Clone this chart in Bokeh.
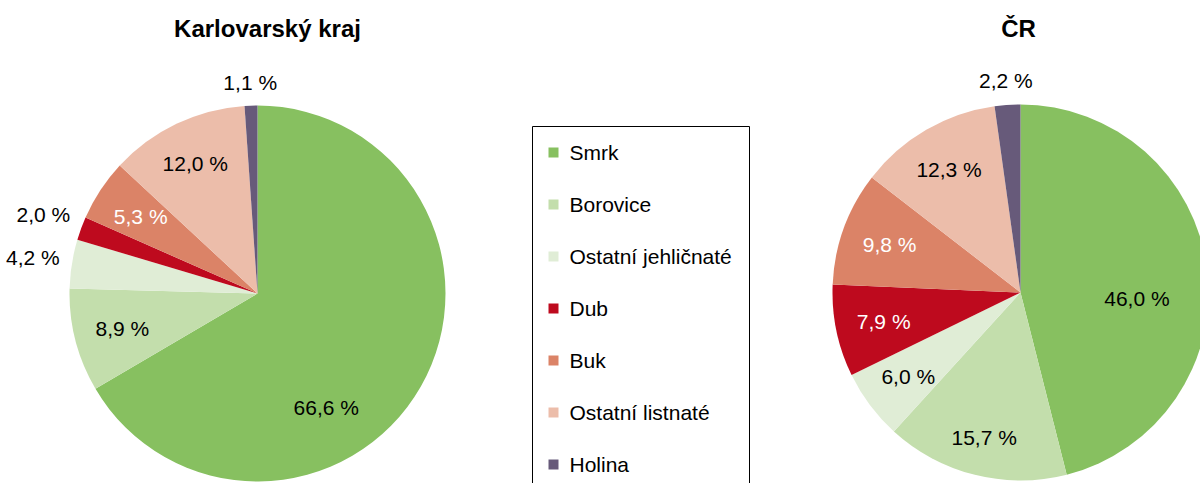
import math
from bokeh.plotting import figure
from bokeh.models import Range1d, ColumnDataSource
from bokeh.embed import file_html
from bokeh.resources import INLINE
from bokeh.core.properties import value

# ---- data ----
categories = ["Smrk", "Borovice", "Ostatní jehličnaté", "Dub", "Buk", "Ostatní listnaté", "Holina"]
karlovarsky = [66.6, 8.9, 4.2, 2.0, 5.3, 12.0, 1.1]
cr = [46.0, 15.7, 6.0, 7.9, 9.8, 12.3, 2.2]
titles = ["Karlovarský kraj", "ČR"]
colors = ["#87C060", "#C3DEAC", "#E0EDD6", "#BE0A1E", "#DB8367", "#ECBDAA", "#675A7A"]
dark_slices = {"Dub", "Buk"}

# ---- layout (pixel-like data space, y up) ----
W, H = 1200, 483
FS = 21
FONT = value("Liberation Sans")
p = figure(width=W, height=H, x_range=Range1d(0, W), y_range=Range1d(0, H),
           output_backend="svg", toolbar_location=None, min_border=0)
p.axis.visible = False
p.grid.visible = False
p.outline_line_color = None
p.background_fill_color = "white"
p.border_fill_color = "white"

def Y(screen_y):
    return H - screen_y

ADV = {",": 0.278, " ": 0.278, "%": 0.889}
def text_half_extent(s, dx, dy):
    hw = sum(ADV.get(c, 0.556) for c in s) * FS / 2
    hh = FS * 0.52
    return hw * abs(dx) + hh * abs(dy)

R = 188
pies = [(257, Y(293), karlovarsky, titles[0], 267), (1020, Y(292), cr, titles[1], 1018)]
# manual placement tweaks for the big slice labels (angle deg clockwise from top, radius fraction)
label_override = {(0, "Smrk"): (149, 0.71), (1, "Smrk"): (93, 0.62)}

for pi_, (cx, cy, vals, title, tx) in enumerate(pies):
    total = sum(vals)
    cum = 0.0
    starts, ends = [], []
    lx, ly, lt, lc = [], [], [], []
    for cat, v, col in zip(categories, vals, colors):
        f0 = cum / total
        cum += v
        f1 = cum / total
        starts.append(math.pi / 2 - 2 * math.pi * f0)
        ends.append(math.pi / 2 - 2 * math.pi * f1)
        mid = 2 * math.pi * (f0 + f1) / 2
        label = f"{v:.1f}".replace(".", ",") + " %"
        sx, sy = math.sin(mid), math.cos(mid)
        ext = text_half_extent(label, sx, sy)
        if v < 5:
            dist = 1.06 * R + ext
            color = "#000000"
        else:
            dist = 0.895 * R - ext
            color = "#FFFFFF" if cat in dark_slices else "#000000"
        if (pi_, cat) in label_override:
            a, frac = label_override[(pi_, cat)]
            sx, sy = math.sin(math.radians(a)), math.cos(math.radians(a))
            dist = frac * R
        lx.append(cx + dist * sx)
        ly.append(cy + dist * sy)
        lt.append(label)
        lc.append(color)
    src = ColumnDataSource(dict(start=starts, end=ends, color=colors))
    p.wedge(x=cx, y=cy, radius=R, start_angle="start", end_angle="end",
            direction="clock", fill_color="color", line_color=None, source=src)
    p.text(x=lx, y=ly, text=lt, text_color=lc, text_align="center",
           text_baseline="middle", text_font=FONT, text_font_size=f"{FS}px")
    p.text(x=[tx], y=[Y(28)], text=[title], text_align="center", text_baseline="middle",
           text_font=FONT, text_font_size="24px", text_font_style="bold", text_color="#000000")

# ---- legend ----
box_l, box_r, box_t = 532, 749, 126
p.quad(left=box_l, right=box_r, top=Y(box_t), bottom=Y(520), fill_color=None,
       line_color="#000000", line_width=1)
leg_y = [Y(152 + 52 * i) for i in range(len(categories))]
p.rect(x=[553] * len(categories), y=leg_y, width=10, height=10, fill_color=colors, line_color=None)
p.text(x=[569] * len(categories), y=leg_y, text=categories, text_align="left",
       text_baseline="middle", text_font=FONT, text_font_size=f"{FS}px", text_color="#000000")

open("out.html", "w").write(file_html(p, INLINE))
